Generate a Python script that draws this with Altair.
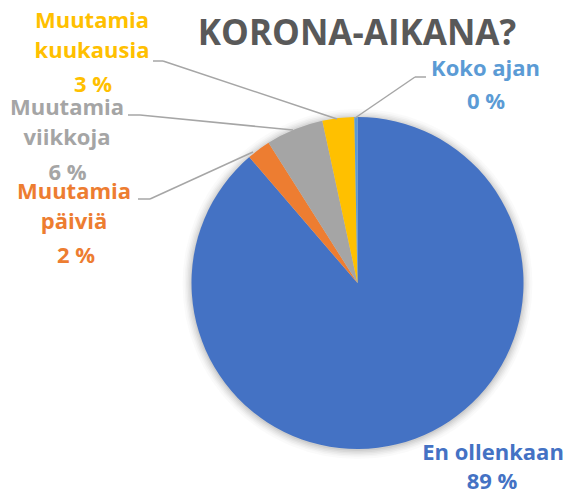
import math
import altair as alt
import pandas as pd

# ---- data ----
categories = ["En ollenkaan", "Muutamia päiviä", "Muutamia viikkoja", "Muutamia kuukausia", "Koko ajan"]
values = [88.7, 2.3, 5.6, 3.1, 0.3]
pct_labels = ["89 %", "2 %", "6 %", "3 %", "0 %"]
label_lines = [["En ollenkaan"], ["Muutamia", "päiviä"], ["Muutamia", "viikkoja"],
               ["Muutamia", "kuukausia"], ["Koko ajan"]]
colors = ["#4472C4", "#ED7D31", "#A5A5A5", "#FFC000", "#5B9BD5"]
title_text = "KORONA-AIKANA?"

# ---- layout (annotation positions, pixels) ----
W, H = 556, 482
CX, CY, R = 349.5, 275, 166
name_pos = [(485, 452), (66, 191.3), (59, 107), (84, 20.3), (477.5, 68)]
pct_pos = [(484, 481), (68, 255.3), (59.5, 172), (85, 83.7), (478, 101)]
leaders = [  # (x, y, x2, y2) segments
    (130, 191, 142, 191), (142, 191, 245, 144),      # päiviä
    (120, 107, 132, 107), (132, 107, 285, 122),      # viikkoja
    (145, 53, 155, 53), (155, 53, 329, 111),         # kuukausia
    (418, 69, 407, 69), (407, 69, 347, 110),         # koko ajan
]

df = pd.DataFrame({"cat": categories, "value": values, "idx": list(range(len(categories)))})

pie = alt.Chart(df).mark_arc(radius=R, stroke=None).encode(
    theta=alt.Theta("value:Q", stack=True),
    order=alt.Order("idx:Q"),
    color=alt.Color("cat:N", scale=alt.Scale(domain=categories, range=colors), legend=None),
    x=alt.value(CX), y=alt.value(CY),
)

shadow_layers = []
for r, op in [(167, 0.05), (168.5, 0.04), (170, 0.035), (171.5, 0.03), (173, 0.025), (175, 0.02)]:
    shadow_layers.append(
        alt.Chart(pd.DataFrame({"a": [0]})).mark_arc(
            radius=r, theta=0, theta2=2 * math.pi, color="black", opacity=op
        ).encode(x=alt.value(CX), y=alt.value(CY + 1))
    )

lab_df = pd.DataFrame({
    "cat": categories,
    "lines": label_lines,
    "pct": pct_labels,
    "nx": [p[0] for p in name_pos], "ny": [p[1] for p in name_pos],
    "px": [p[0] for p in pct_pos], "py": [p[1] for p in pct_pos],
})
col = alt.Color("cat:N", scale=alt.Scale(domain=categories, range=colors), legend=None)

names = alt.Chart(lab_df).mark_text(
    font="Open Sans", fontSize=22, fontWeight="bold", align="center",
    baseline="alphabetic", lineHeight=30,
).encode(
    x=alt.X("nx:Q", scale=None), y=alt.Y("ny:Q", scale=None), text="lines", color=col,
)
pcts = alt.Chart(lab_df).mark_text(
    font="Open Sans", fontSize=22, fontWeight="bold", align="center", baseline="alphabetic",
).encode(
    x=alt.X("px:Q", scale=None), y=alt.Y("py:Q", scale=None), text="pct:N", color=col,
)

lead_df = pd.DataFrame(leaders, columns=["x", "y", "x2", "y2"])
lead = alt.Chart(lead_df).mark_rule(color="#A6A6A6", strokeWidth=1.5).encode(
    x=alt.X("x:Q", scale=None), y=alt.Y("y:Q", scale=None),
    x2="x2:Q", y2="y2:Q",
)

title = alt.Chart(pd.DataFrame({"t": [title_text]})).mark_text(
    font="Open Sans", fontSize=35, fontWeight="bold", color="#595959",
    align="center", baseline="alphabetic",
).encode(text="t:N", x=alt.value(349), y=alt.value(37))

chart = alt.layer(*shadow_layers, pie, lead, names, pcts, title).properties(
    width=W, height=H, autosize="none", padding=0,
).configure_view(stroke=None)

chart.save("out.html", embed_options={"renderer": "svg", "actions": False})
